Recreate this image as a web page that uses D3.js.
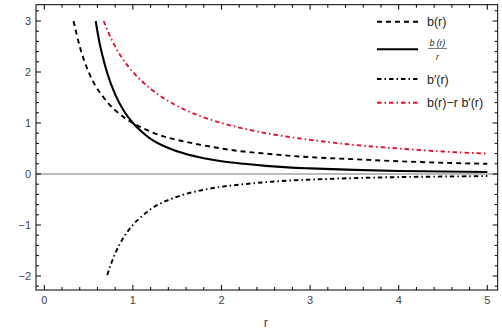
<!DOCTYPE html>
<html>
<head>
<meta charset="utf-8">
<script src="https://cdn.jsdelivr.net/npm/d3@7"></script>
<style>
  body { margin: 0; background: #fff; }
  svg text { font-family: "Liberation Sans", Arial, sans-serif; }
</style>
</head>
<body>
<div id="chart"></div>
<script>
// values
const rB = [0.33, 0.4, 0.5, 0.58, 0.67, 0.71, 0.8, 0.9, 1, 1.2, 1.4, 1.6, 1.8, 2, 2.25, 2.5, 2.75, 3, 3.5, 4, 4.5, 5];
const bVals = [3.0, 2.5, 2.0, 1.72, 1.5, 1.41, 1.25, 1.11, 1.0, 0.83, 0.71, 0.63, 0.56, 0.5, 0.44, 0.4, 0.36, 0.33, 0.29, 0.25, 0.22, 0.2];

const rBr = [0.58, 0.62, 0.67, 0.71, 0.8, 0.9, 1, 1.1, 1.2, 1.4, 1.6, 1.8, 2, 2.25, 2.5, 2.75, 3, 3.5, 4, 4.5, 5];
const brVals = [3.0, 2.6, 2.23, 1.98, 1.56, 1.23, 1.0, 0.83, 0.69, 0.51, 0.39, 0.31, 0.25, 0.2, 0.16, 0.13, 0.11, 0.08, 0.06, 0.05, 0.04];

const rDb = [0.71, 0.75, 0.8, 0.9, 1, 1.1, 1.2, 1.4, 1.6, 1.8, 2, 2.25, 2.5, 2.75, 3, 3.5, 4, 4.5, 5];
const dbVals = [-1.98, -1.78, -1.56, -1.23, -1.0, -0.83, -0.69, -0.51, -0.39, -0.31, -0.25, -0.2, -0.16, -0.13, -0.11, -0.08, -0.06, -0.05, -0.04];

const rRed = [0.67, 0.75, 0.8, 0.9, 1, 1.1, 1.2, 1.4, 1.6, 1.8, 2, 2.25, 2.5, 2.75, 3, 3.5, 4, 4.5, 5];
const redVals = [3.0, 2.67, 2.5, 2.22, 2.0, 1.82, 1.67, 1.43, 1.25, 1.11, 1.0, 0.89, 0.8, 0.73, 0.67, 0.57, 0.5, 0.44, 0.4];

const xTicks = [0, 1, 2, 3, 4, 5];
const yTicks = [-2, -1, 0, 1, 2, 3];

const series = [
  { r: rB, v: bVals, color: "#000", width: 1.9, dash: "5,4" },
  { r: rBr, v: brVals, color: "#000", width: 2.1, dash: null },
  { r: rDb, v: dbVals, color: "#000", width: 1.9, dash: "4.5,3,1.5,3" },
  { r: rRed, v: redVals, color: "#e0102a", width: 1.9, dash: "4.5,3,1.5,3" }
];

const W = 502, H = 331;
const frame = { left: 36, right: 497.7, top: 4.7, bottom: 290 };

const x = d3.scaleLinear().domain([0, 5]).range([44.3, 487.3]);
const y = d3.scaleLinear().domain([0, 3]).range([174, 21]);

const svg = d3.select("#chart").append("svg")
  .attr("width", W).attr("height", H);

// zero axis line
svg.append("line")
  .attr("x1", frame.left).attr("x2", frame.right)
  .attr("y1", y(0)).attr("y2", y(0))
  .attr("stroke", "#777").attr("stroke-width", 1);

// curves
const line = d3.line()
  .x(d => x(d[0])).y(d => y(d[1]))
  .curve(d3.curveMonotoneX);

series.forEach(s => {
  svg.append("path")
    .datum(s.r.map((r, i) => [r, s.v[i]]))
    .attr("d", line)
    .attr("fill", "none")
    .attr("stroke", s.color)
    .attr("stroke-width", s.width)
    .attr("stroke-dasharray", s.dash);
});

// frame
svg.append("rect")
  .attr("x", frame.left).attr("y", frame.top)
  .attr("width", frame.right - frame.left)
  .attr("height", frame.bottom - frame.top)
  .attr("fill", "none").attr("stroke", "#000").attr("stroke-width", 1);

// ticks (inward, all four sides)
const minorX = d3.range(-0.0, 5.15, 0.2).map(v => +v.toFixed(2));
const minorY = d3.range(-2.2, 3.35, 0.2).map(v => +v.toFixed(2));
const isMajor = v => Math.abs(v - Math.round(v)) < 1e-6;

const tg = svg.append("g").attr("stroke", "#000").attr("stroke-width", 1);
minorX.forEach(v => {
  const px = x(v);
  if (px <= frame.left || px >= frame.right) return;
  const len = isMajor(v) ? 5 : 3;
  tg.append("line").attr("x1", px).attr("x2", px).attr("y1", frame.bottom).attr("y2", frame.bottom - len);
  tg.append("line").attr("x1", px).attr("x2", px).attr("y1", frame.top).attr("y2", frame.top + len);
});
minorY.forEach(v => {
  const py = y(v);
  if (py <= frame.top || py >= frame.bottom) return;
  const len = isMajor(v) ? 5 : 3;
  tg.append("line").attr("y1", py).attr("y2", py).attr("x1", frame.left).attr("x2", frame.left + len);
  tg.append("line").attr("y1", py).attr("y2", py).attr("x1", frame.right).attr("x2", frame.right - len);
});

// tick labels
svg.append("g").selectAll("text").data(xTicks).join("text")
  .attr("x", d => x(d)).attr("y", frame.bottom + 14)
  .attr("text-anchor", "middle")
  .attr("font-size", 11).attr("fill", "#444")
  .text(d => d);

svg.append("g").selectAll("text").data(yTicks).join("text")
  .attr("x", frame.left - 5).attr("y", d => y(d) + 4)
  .attr("text-anchor", "end")
  .attr("font-size", 11).attr("fill", "#444")
  .text(d => d < 0 ? "\u2212" + Math.abs(d) : d);

// axis label
svg.append("text")
  .attr("x", (x(0) + x(5)) / 2).attr("y", 327)
  .attr("text-anchor", "middle")
  .attr("font-size", 13).attr("fill", "#444")
  .text("r");

// legend
const legY = [21.7, 49.3, 79, 102.7];
const lg = svg.append("g");
series.forEach((s, i) => {
  lg.append("line")
    .attr("x1", 377).attr("x2", 418)
    .attr("y1", legY[i]).attr("y2", legY[i])
    .attr("stroke", s.color).attr("stroke-width", s.width)
    .attr("stroke-dasharray", s.dash);
});
const legText = ["b(r)", null, "b\u2032(r)", "b(r)\u2212r b\u2032(r)"];
legText.forEach((t, i) => {
  if (!t) return;
  lg.append("text")
    .attr("x", 427).attr("y", legY[i] + 4.5)
    .attr("font-size", 12.5).attr("fill", "#222")
    .text(t);
});
// fraction b(r)/r
lg.append("text").attr("x", 437.5).attr("y", 46)
  .attr("text-anchor", "middle").attr("font-size", 8.5)
  .attr("font-style", "italic").attr("fill", "#222").text("b (r)");
lg.append("line").attr("x1", 428).attr("x2", 447)
  .attr("y1", 48.5).attr("y2", 48.5).attr("stroke", "#222").attr("stroke-width", 0.6);
lg.append("text").attr("x", 437.5).attr("y", 60)
  .attr("text-anchor", "middle").attr("font-size", 8.5)
  .attr("font-style", "italic").attr("fill", "#222").text("r");
</script>
</body>
</html>
